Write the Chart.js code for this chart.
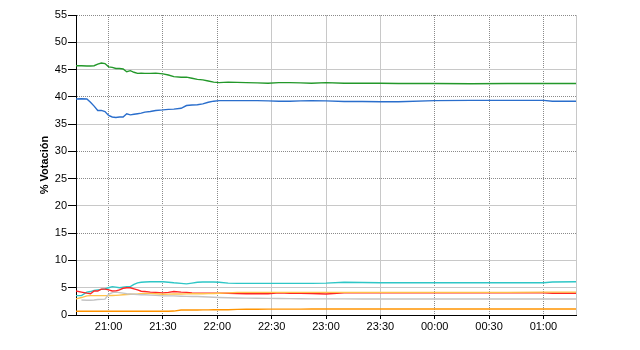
<!DOCTYPE html>
<html>
<head>
<meta charset="utf-8">
<script src="https://cdn.jsdelivr.net/npm/chart.js@4.4.1/dist/chart.umd.min.js"></script>
<style>
  body { margin: 0; background: #fff; }
  #wrap { width: 640px; height: 350px; }
</style>
</head>
<body>
<div id="wrap"><canvas id="myChart" width="640" height="350"></canvas></div>
<script>
// minutes after 20:00
const times = [42,45,48,50,52,54,56,58, 60,62,64,66,68,70,72,74,76,78, 80,83,86,90,93,96,
  100,103,106,109,112,115,118, 121,126,131,136,142,148,154,160,166,172, 180,190,200,210,220,
  240,260,280,300,305,318]

const green = [45.7,45.7,45.65,45.65,45.7,46.0,46.2,46.1, 45.5,45.4,45.2,45.2,45.1,44.6,44.8,44.5,44.3,44.35,
  44.3,44.3,44.35,44.2,44.0,43.7, 43.6,43.6,43.4,43.2,43.1,42.9,42.7,
  42.6,42.7,42.65,42.6,42.55,42.5,42.6,42.6,42.55,42.5, 42.6,42.5,42.5,42.5,42.45,
  42.45,42.4,42.45,42.45,42.45,42.45]
const blue = [39.6,39.65,39.6,39.0,38.3,37.5,37.5,37.3, 36.6,36.3,36.2,36.3,36.3,36.9,36.7,36.8,36.9,37.0,
  37.2,37.3,37.5,37.6,37.7,37.75, 37.9,38.4,38.5,38.55,38.7,39.0,39.2,
  39.3,39.3,39.3,39.3,39.3,39.25,39.2,39.2,39.25,39.3, 39.25,39.15,39.15,39.1,39.1,
  39.3,39.35,39.35,39.35,39.2,39.2]
const cyan = [3.55,3.55,4.2,4.3,4.5,4.6,4.7,4.8, 5.0,5.2,5.1,5.0,5.1,5.2,5.2,5.6,5.9,6.0,
  6.05,6.1,6.1,6.1,6.0,5.9, 5.8,5.7,5.85,6.0,6.05,6.05,6.05,
  6.0,5.85,5.8,5.8,5.8,5.8,5.8,5.8,5.8,5.8, 5.85,6.0,5.95,5.9,5.9,
  5.9,5.9,5.9,5.9,6.05,6.1]
const red = [4.4,4.2,4.0,3.9,4.4,4.4,4.75,4.75, 4.6,4.4,4.4,4.6,4.9,5.0,5.0,4.8,4.6,4.35,
  4.3,4.2,4.15,4.05,4.15,4.3, 4.2,4.15,4.05,4.0,4.0,4.0,4.0,
  4.0,4.0,3.95,3.9,3.9,3.9,4.05,4.0,4.0,3.95, 3.85,4.05,4.05,4.05,4.05,
  4.05,4.05,4.05,4.05,4.0,4.0]
const yellow = [2.95,3.2,3.5,3.55,3.55,3.55,3.55,3.55, 3.55,3.58,3.6,3.65,3.7,3.75,3.8,3.82,3.85,3.9,
  3.95,3.92,3.9,3.8,3.82,3.85, 3.85,3.88,3.9,3.9,3.9,3.92,3.95,
  4.0,4.05,4.15,4.15,4.15,4.15,4.15,4.15,4.15,4.15, 4.15,4.15,4.15,4.15,4.15,
  4.15,4.15,4.15,4.2,4.2,4.2]
const gray = [null,2.75,2.7,2.7,2.75,2.85,2.87,2.9, 3.8,4.1,4.2,4.1,4.0,3.9,3.85,3.8,3.75,3.72,
  3.7,3.65,3.6,3.5,3.5,3.5, 3.45,3.42,3.4,3.38,3.35,3.3,3.25,
  3.2,3.15,3.12,3.1,3.08,3.05,3.02,3.0,2.98,2.95, 2.95,2.95,2.93,2.93,2.93,
  2.93,2.93,2.93,2.93,2.93,2.93]
const orange = [0.7,0.7,0.7,0.7,0.7,0.7,0.7,0.7, 0.7,0.7,0.7,0.7,0.7,0.7,0.7,0.7,0.7,0.7,
  0.7,0.7,0.7,0.7,0.7,0.72, 0.92,0.92,0.93,0.93,0.94,0.94,0.95,
  0.95,0.95,1.04,1.05,1.06,1.07,1.08,1.08,1.08,1.1, 1.1,1.1,1.1,1.1,1.1,
  1.1,1.1,1.1,1.1,1.1,1.1]

const xMin = 42
const xMax = 318
const xTicks = [60,90,120,150,180,210,240,270,300]
const xTickLabels = ['21:00','21:30','22:00','22:30','23:00','23:30','00:00','00:30','01:00']
const xDotted = [true,true,true,false,false,false,true,true,true]
const yDotted = [55,40,30,25,15]

const DOT = '#8a8a8a'
const SOLID = '#c8c8c8'
const FONT = { family: '"Liberation Sans", Arial, sans-serif', size: 11 }

function pts(arr) {
  return times.map((t, i) => ({ x: t, y: arr[i] }))
}

function line(data, color) {
  return { data: pts(data), borderColor: color, borderWidth: 1.4, pointRadius: 0, tension: 0, fill: false, spanGaps: false }
}

const ctx = document.getElementById('myChart')

const chart = new Chart(ctx, {
  type: 'line',
  data: {
    datasets: [
      line(orange, '#ff9400'),
      line(gray, '#c4c4c4'),
      line(yellow, '#ffc24a'),
      line(red, '#ff2626'),
      line(cyan, '#2ec6c6'),
      line(blue, '#2a6ecc'),
      line(green, '#23982a')
    ]
  },
  options: {
    responsive: false,
    animation: false,
    layout: { padding: { left: 0, top: 15, right: 64, bottom: 0 } },
    plugins: { legend: { display: false }, tooltip: { enabled: false } },
    scales: {
      x: {
        type: 'linear',
        min: xMin,
        max: xMax,
        afterBuildTicks: (scale) => {
          scale.ticks = xTicks.concat([xMax]).map(v => ({ value: v }))
        },
        afterFit: (scale) => { scale.height = 35 },
        ticks: {
          color: '#000',
          font: FONT,
          padding: 1,
          maxRotation: 0,
          autoSkip: false,
          callback: (v, i) => xTickLabels[i] || ''
        },
        grid: {
          color: (c) => (c.index < xDotted.length && xDotted[c.index]) ? DOT : SOLID,
          tickColor: (c) => c.index < xTicks.length ? '#000' : 'rgba(0,0,0,0)',
          tickLength: 4,
          tickBorderDash: [],
          lineWidth: 1
        },
        border: {
          color: '#000',
          width: 1,
          dash: (c) => (c.index < xDotted.length && xDotted[c.index]) ? [1, 1] : []
        }
      },
      y: {
        min: 0,
        max: 55,
        afterFit: (scale) => { scale.width = 76 },
        ticks: { stepSize: 5, color: '#000', font: FONT, padding: 1 },
        grid: {
          color: (c) => yDotted.includes(c.tick.value) ? DOT : SOLID,
          tickColor: '#000',
          tickLength: 8,
          tickBorderDash: [],
          lineWidth: 1
        },
        border: {
          color: '#000',
          width: 1,
          dash: (c) => yDotted.includes(c.tick.value) ? [1, 1] : []
        },
        title: {
          display: true,
          text: '% Votación',
          color: '#000',
          font: { family: '"Liberation Sans", Arial, sans-serif', size: 11, weight: 'bold' },
          padding: { top: 38, bottom: 0 }
        }
      }
    }
  }
})
</script>
</body>
</html>
